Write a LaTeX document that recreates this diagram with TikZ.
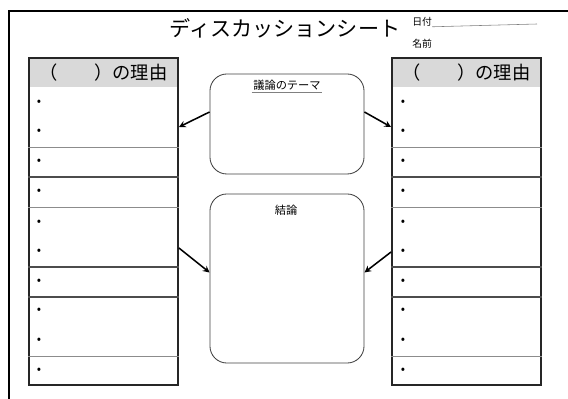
\documentclass[tikz,border=0pt]{standalone}
\usepackage{fontspec}
\setmainfont{Noto Sans CJK JP}
\usepackage{tikz}
\usetikzlibrary{calc,positioning,arrows}
\tikzstyle{tabbox}    = [rectangle, draw=black!85, line width=1.3pt, minimum width=3.725cm, minimum height=8.175cm, inner sep=0pt]
\tikzstyle{headbox}   = [rectangle, fill=black!15, minimum width=3.65cm, minimum height=0.72cm, inner sep=0pt, font=\fontsize{13}{13}\selectfont]
\tikzstyle{roundbox}  = [rectangle, rounded corners=12pt, draw=black!75, line width=0.6pt, minimum width=3.85cm, inner sep=0pt]
\tikzstyle{bullet}    = [inner sep=0pt, font=\fontsize{9}{9}\selectfont]
\tikzstyle{thinsep}   = [draw=black!45, line width=0.5pt]
\tikzstyle{thicksep}  = [draw=black!70, line width=0.8pt]
\tikzstyle{arrow}     = [line width=1.1pt,->,>=stealth]

\begin{document}
\begin{tikzpicture}[x=0.025cm,y=-0.025cm]
        \useasboundingbox (0,0) rectangle (568,399);
        \begin{scope}
            \clip (0,0) rectangle (568,399);
            \draw[line width=1.4pt] (9,11) rectangle (600,430);
        \end{scope}

        \node (title) at (285,28) {\fontsize{15}{15}\selectfont ディスカッションシート};
        \node[anchor=west, inner sep=0pt] (date) at (412,22) {\fontsize{7}{7}\selectfont 日付};
        \draw[draw=black!50, line width=0.4pt] (date.south east) -- (537,24);
        \node[anchor=west, inner sep=0pt] (name) at (412,44) {\fontsize{7}{7}\selectfont 名前};

        \node[tabbox] (lt) at (103.5,221.5) {};
        \node[tabbox] (rt) at (466.5,221.5) {};
        \node[headbox] (lh) at (103.5,73) {（　　）の理由};
        \node[headbox] (rh) at (466.5,73) {（　　）の理由};

        \foreach \y/\s in {147/thinsep,177/thicksep,207/thinsep,267/thicksep,297/thicksep,356/thinsep} {
            \draw[\s] (lt.west |- 0,\y) -- (lt.east |- 0,\y);
            \draw[\s] (rt.west |- 0,\y) -- (rt.east |- 0,\y);
        }
        \foreach \y [count=\i] in {103,132,162,192,223,252,282,311,341,371} {
            \node[bullet] (bl\i) at (39,\y) {•};
            \node[bullet] (br\i) at (403,\y) {•};
        }

        \node[roundbox, minimum height=2.5cm] (theme) at (287,124) {};
        \node[inner sep=1pt, font=\fontsize{8}{8}\selectfont] (themelbl) at (287,85) {議論のテーマ};
        \draw[draw=black!50, line width=0.4pt] (themelbl.south west) -- (themelbl.south east);

        \node[roundbox, minimum height=4.225cm] (concl) at (287,278.5) {};
        \node[inner sep=1pt, font=\fontsize{8}{8}\selectfont] (concllbl) at (286,210) {結論};

        \draw[arrow] ([yshift=0.3cm]theme.west) -- (lt.east |- 0,127);
        \draw[arrow] ([yshift=0.3cm]theme.east) -- (rt.west |- 0,127);
        \draw[arrow] (lt.east |- 0,248) -- ([yshift=0.15cm]concl.west);
        \draw[arrow] (rt.west |- 0,252) -- ([yshift=0.15cm]concl.east);
\end{tikzpicture}
\end{document}
